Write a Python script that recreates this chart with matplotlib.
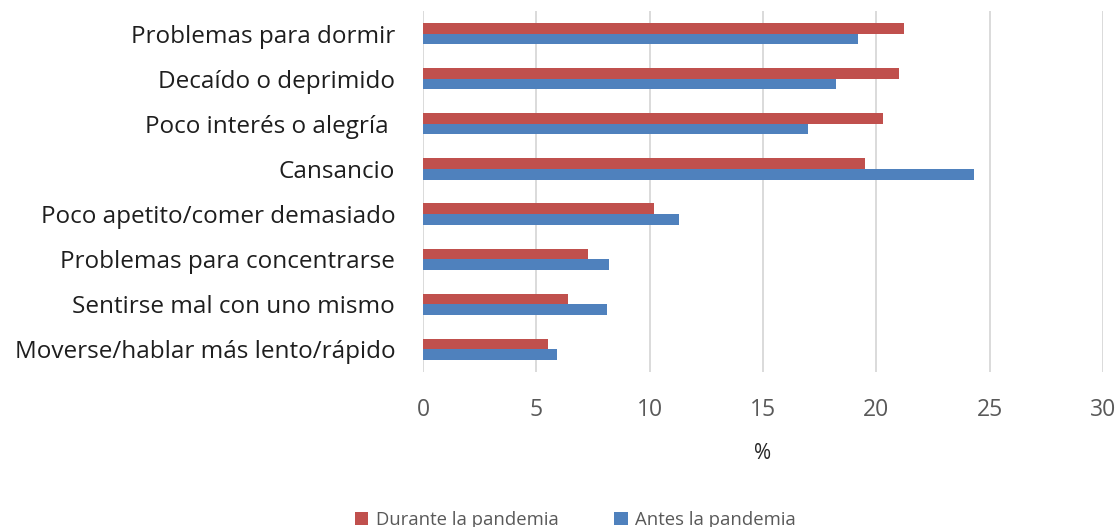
import matplotlib
matplotlib.use("Agg")
import matplotlib.pyplot as plt
import numpy as np

categories = [
    "Problemas para dormir",
    "Decaído o deprimido",
    "Poco interés o alegría ",
    "Cansancio",
    "Poco apetito/comer demasiado",
    "Problemas para concentrarse",
    "Sentirse mal con uno mismo",
    "Moverse/hablar más lento/rápido",
]
durante = [21.2, 21.0, 20.3, 19.5, 10.2, 7.3, 6.4, 5.5]
antes = [19.2, 18.2, 17.0, 24.3, 11.3, 8.2, 8.1, 5.9]
series_names = ["Durante la pandemia", "Antes la pandemia"]
xticks = [0, 5, 10, 15, 20, 25, 30]

RED = "#C0504D"
BLUE = "#4F81BD"
FONT = ["Open Sans", "DejaVu Sans"]

fig = plt.figure(figsize=(11.17, 5.27), dpi=100)
ax = fig.add_axes([423 / 1117, 1 - 372 / 527, (1103 - 423) / 1117, (372 - 11) / 527])

y = np.arange(len(categories))
h = 0.235
ax.barh(y - h / 2, durante, height=h, color=RED, label=series_names[0], zorder=3)
ax.barh(y + h / 2, antes, height=h, color=BLUE, label=series_names[1], zorder=3)

ax.set_xlim(0, 30)
ax.set_ylim(len(categories) - 0.5, -0.5)
ax.set_xticks(xticks)
ax.set_xticklabels([str(t) for t in xticks], fontfamily=FONT, fontsize=16.5, color="#595959")
ax.set_yticks(y)
ax.set_yticklabels(categories, fontfamily=FONT, fontsize=17.5, color="#1E1E1E")
ax.tick_params(axis="both", length=0)
ax.tick_params(axis="x", pad=19)
ax.tick_params(axis="y", pad=20)
ax.grid(axis="x", color="#D4D4D4", linewidth=1.2, zorder=0)
for s in ax.spines.values():
    s.set_visible(False)

ax.set_xlabel("%", fontfamily=FONT, fontsize=15, color="#262626", labelpad=15)

fig.legend(loc="lower center", bbox_to_anchor=(0.515, -0.035), ncol=2, frameon=False,
           prop={"family": FONT, "size": 13.3}, labelcolor="#595959",
           handlelength=0.75, handleheight=0.75, handletextpad=0.4, columnspacing=3.0)

fig.savefig("out.png", dpi=100, facecolor="white")
